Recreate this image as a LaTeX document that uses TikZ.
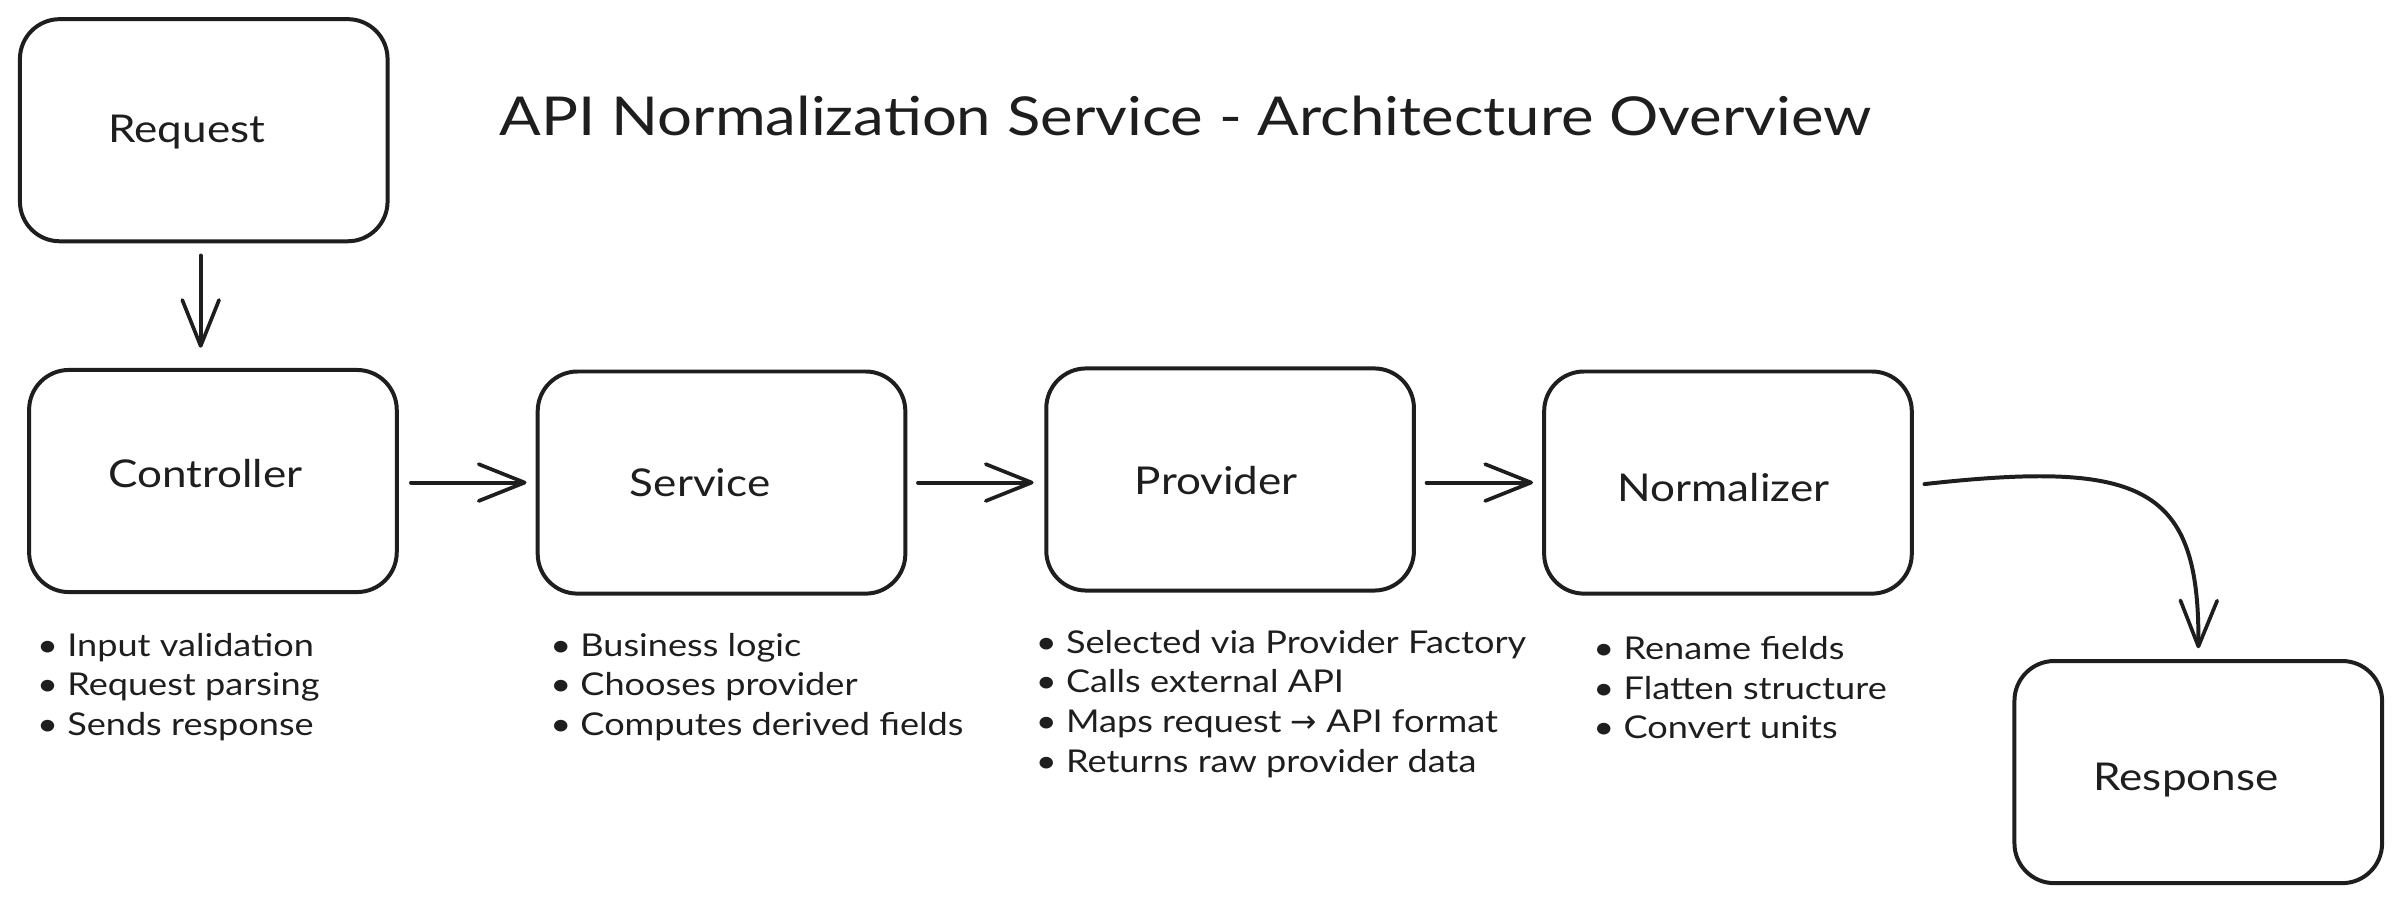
\documentclass[tikz,border=0pt]{standalone}
\usepackage{fontspec}
\setmainfont{Lato}[FakeStretch=1.15]
\newfontfamily\arrowfont{DejaVu Sans}
\usetikzlibrary{arrows.meta}
\definecolor{ink}{HTML}{1E1E1E}
\begin{document}
\begin{tikzpicture}[x=1pt,y=-1pt,
  box/.style={draw=ink, line width=2.6pt, rounded corners=26pt, minimum width=240pt, minimum height=145pt, inner sep=0pt},
  lbl/.style={text=ink, font=\fontsize{25}{30}\selectfont, inner sep=0pt},
  notes/.style={text=ink, font=\fontsize{20.5}{26}\selectfont, align=left, anchor=north west, inner sep=0pt},
  arr/.style={draw=ink, line width=2.6pt, line cap=round, -{Straight Barb[length=30pt,width=24pt,line width=2.4pt,line cap=round,line join=round]}}]
\useasboundingbox[fill=white] (0,0) rectangle (1568,590);
% title
\node[text=ink, font=\fontsize{35}{40}\selectfont, inner sep=0pt] (title) at (774,76) {API Normalization Service - Architecture Overview};
% boxes
\node[box] (req)  at (133,85)  {};
\node[box] (ctrl) at (139,314) {};
\node[box] (serv) at (471,315) {};
\node[box] (prov) at (803,313) {};
\node[box] (norm) at (1128,315) {};
\node[box] (resp) at (1435,504) {};
% labels
\node[lbl] (reqL)  at (122,86)  {Request};
\node[lbl] (ctrlL) at (134,309) {Controller};
\node[lbl] (servL) at (457,315) {Service};
\node[lbl] (provL) at (794,314) {Provider};
\node[lbl] (normL) at (1125,318) {Normalizer};
\node[lbl] (respL) at (1427,509) {Response};
% notes
\node[notes] (ctrlN) at (24,413) {• Input validation\\• Request parsing\\• Sends response};
\node[notes] (servN) at (359,413) {• Business logic\\• Chooses provider\\• Computes derived fields};
\node[notes] (provN) at (676,411) {• Selected via Provider Factory\\• Calls external API\\• Maps request {\arrowfont →} API format\\• Returns raw provider data};
\node[notes] (normN) at (1040,415) {• Rename fields\\• Flatten structure\\• Convert units};
% connectors
\coordinate (reqTop) at (131,165);
\draw[arr] (req.south -| reqTop) ++(0,8) -- (131,227);
\draw[arr, shorten <=8pt, shorten >=6pt] (ctrl.east |- 0,315) -- (serv.west |- 0,315);
\draw[arr, shorten <=7pt, shorten >=7pt] (serv.east |- 0,315) -- (prov.west |- 0,315);
\draw[arr, shorten <=7pt, shorten >=6pt] (prov.east |- 0,315) -- (norm.west |- 0,315);
\draw[arr, shorten >=7pt] (norm.east |- 0,316) ++(7,0) .. controls (1400,300) and (1436,318) .. (resp.north);
\end{tikzpicture}
\end{document}
